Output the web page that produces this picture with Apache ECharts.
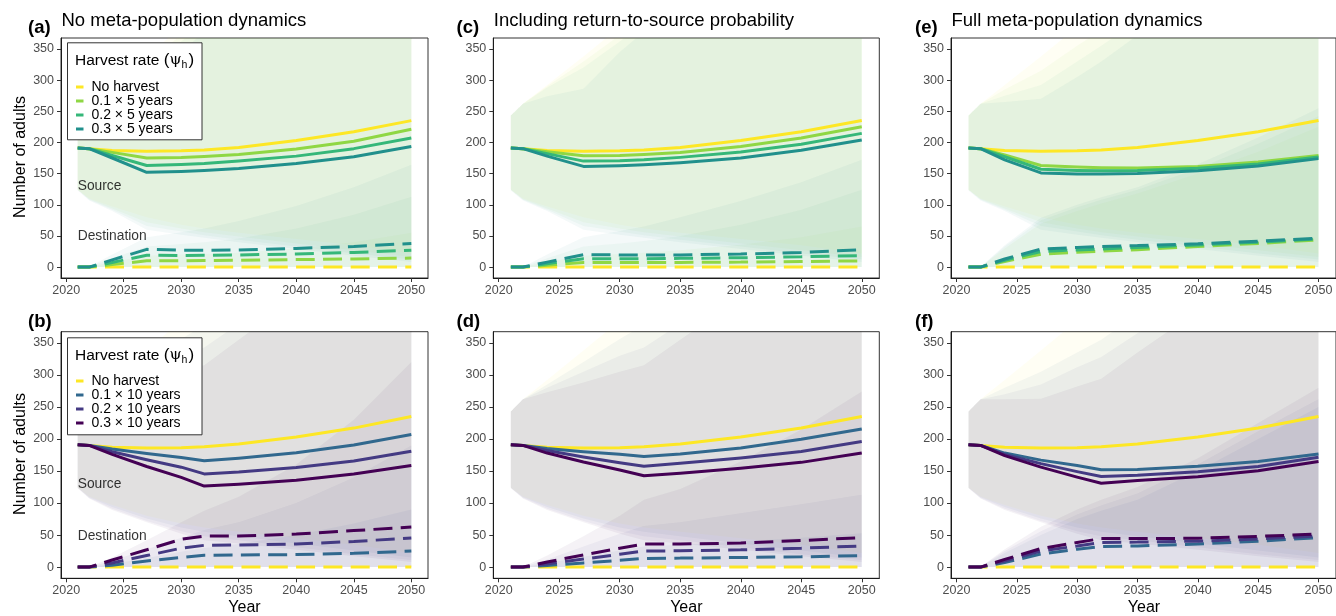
<!DOCTYPE html>
<html>
<head>
<meta charset="utf-8">
<script src="https://cdn.jsdelivr.net/npm/echarts@6/dist/echarts.min.js"></script>
<style>
  html, body { margin: 0; padding: 0; background: #ffffff; }
  #chart { width: 1336px; height: 616px; }
</style>
</head>
<body>
<div id="chart"></div>
<script>
// ---- axes --------------------------------------------------------------
const years  = [2021, 2022, 2024, 2027, 2030, 2032, 2035, 2040, 2045, 2050];
const xTicks = [2020, 2025, 2030, 2035, 2040, 2045, 2050];
const yTicks = [0, 50, 100, 150, 200, 250, 300, 350];

// ---- scenarios ----------------------------------------------------------
const scenariosTop    = ['No harvest', '0.1 × 5 years', '0.2 × 5 years', '0.3 × 5 years'];
const scenariosBottom = ['No harvest', '0.1 × 10 years', '0.2 × 10 years', '0.3 × 10 years'];
const coloursTop      = ['#FDE725', '#8FD744', '#35B779', '#21908C'];
const coloursBottom   = ['#FDE725', '#31688E', '#443A83', '#440154'];

const panelLabels = ['(a)', '(b)', '(c)', '(d)', '(e)', '(f)'];
const panelTitles = ['No meta-population dynamics', '', 'Including return-to-source probability', '', 'Full meta-population dynamics', ''];

// ---- mean number of adults: source (solid) and destination (dashed) ----
const zeros            = [0, 0, 0, 0, 0, 0, 0, 0, 0, 0];
const noHarvestSource  = [191, 190, 187, 186, 186.5, 188, 192, 203, 217, 235];

const aSrc01 = [191, 190, 184, 175, 176, 177.5, 180.5, 189.5, 202, 221];
const aSrc02 = [191, 190, 179, 163, 164.5, 166, 170, 178, 190, 207];
const aSrc03 = [191, 190, 175, 152, 153.5, 155, 158, 166, 177, 193.5];
const aDst01 = [0, 0, 4, 10, 10, 10.5, 11, 12, 13, 14.5];
const aDst02 = [0, 0, 7.5, 19, 18.5, 19, 19.5, 21, 23.5, 27];
const aDst03 = [0, 0, 11.5, 28.5, 27, 27, 27.5, 30, 33, 38];

const bSrc01 = [191, 190, 184.5, 177.5, 171, 166, 170, 178.5, 190.5, 207];
const bSrc02 = [191, 190, 180, 167.5, 156, 145.5, 148.5, 155.5, 165.5, 181];
const bSrc03 = [191, 190, 176, 157, 140, 126.5, 129.5, 135.5, 145.5, 158.5];
const bDst01 = [0, 0, 3, 9.5, 15, 18.5, 19, 19.5, 21.5, 25];
const bDst02 = [0, 0, 6.5, 18, 29.5, 34, 34.5, 36, 40, 45.5];
const bDst03 = [0, 0, 11, 27, 43.5, 48.5, 48.5, 51.5, 57, 62.5];

const cSrc01 = [191, 190, 185, 178.5, 179, 180.5, 184, 193.5, 207, 225];
const cSrc02 = [191, 190, 182, 170, 170.5, 172, 176, 184.5, 197, 214.5];
const cSrc03 = [191, 190, 178, 161.5, 162.5, 164, 167.5, 175, 187.5, 204];
const cDst01 = [0, 0, 3, 7.5, 7.5, 7.5, 7.5, 8, 9, 10];
const cDst02 = [0, 0, 5.5, 13.5, 13.5, 13.5, 14, 15, 16.5, 18.5];
const cDst03 = [0, 0, 8, 20, 19.5, 19.5, 19.5, 21, 23.5, 28];

const dSrc01 = [191, 190, 185, 180, 176, 172.5, 176.5, 186, 199.5, 215.5];
const dSrc02 = [191, 190, 182, 172, 163, 157.5, 162, 170.5, 180.5, 196];
const dSrc03 = [191, 190, 178, 164, 151.5, 142.5, 146.5, 154.5, 163.5, 178];
const dDst01 = [0, 0, 2.5, 6.5, 10.5, 13.5, 14, 15, 16, 18];
const dDst02 = [0, 0, 5, 12.5, 20, 25, 25.5, 27, 29.5, 33];
const dDst03 = [0, 0, 8, 19, 29.5, 36, 36, 37.5, 41.5, 46];

const eSrc01 = [191, 190, 180, 163, 160.5, 159.5, 159, 161.5, 168.5, 179];
const eSrc02 = [191, 190, 177, 157, 155, 154.5, 155, 158.5, 165.5, 176.5];
const eSrc03 = [191, 190, 172, 151, 149.5, 149.5, 150, 154.5, 162, 174];
const eDst01 = [0, 0, 9, 20.5, 24, 25.5, 28, 33, 38, 43.5];
const eDst02 = [0, 0, 11, 25, 27.5, 29, 31.5, 35.5, 40, 45];
const eDst03 = [0, 0, 13, 29, 31.5, 33, 34.5, 37.5, 41.5, 46.5];

const fSrc01 = [191, 190, 178, 167, 158.5, 152, 152.5, 157.5, 165, 176.5];
const fSrc02 = [191, 190, 176, 161.5, 149, 141.5, 143.5, 149, 157, 171.5];
const fSrc03 = [191, 190, 174, 156, 140.5, 131, 135, 141, 150.5, 165];
const fDst01 = [0, 0, 7, 20.5, 28, 32, 33, 36, 40.5, 46];
const fDst02 = [0, 0, 9.5, 25, 33, 38.5, 39, 40.5, 44, 48.5];
const fDst03 = [0, 0, 12, 29, 38.5, 44.5, 44.5, 45, 48, 51.5];

// ---- uncertainty intervals ---------------------------------------------
const srcLoNo    = [124, 110, 97, 80, 68, 62, 55, 45, 35, 22];
const srcLoTop01 = [124, 109, 94, 72, 62, 56, 49, 38, 27, 16];
const srcLoTop02 = [124, 108, 92, 66, 57, 51, 44, 33, 22, 12];
const srcLoTop03 = [123, 107, 90, 60, 52, 47, 40, 29, 18, 8];
const srcLoBot01 = [124, 109, 94, 76, 62, 55, 48, 37, 26, 15];
const srcLoBot02 = [124, 108, 91, 72, 56, 48, 42, 31, 20, 11];
const srcLoBot03 = [123, 107, 89, 70, 52, 42, 37, 27, 17, 8];

const srcHiNo    = [243, 262, 292, 338, 385, 415, 460, 530, 610, 700];
const acSrcHi01  = [243, 262, 290, 330, 372, 400, 445, 515, 595, 685];
const acSrcHi02  = [243, 262, 288, 320, 362, 390, 435, 505, 585, 670];
const acSrcHi03  = [243, 262, 274, 286, 345, 378, 425, 495, 575, 660];
const eSrcHi01   = [243, 262, 285, 315, 355, 380, 420, 490, 570, 660];
const eSrcHi02   = [243, 262, 275, 292, 330, 355, 395, 465, 545, 640];
const eSrcHi03   = [243, 262, 265, 270, 305, 330, 372, 440, 520, 610];
const bdSrcHi01  = [243, 262, 285, 320, 356, 378, 420, 490, 570, 660];
const bdSrcHi02  = [243, 262, 280, 305, 330, 343, 380, 450, 530, 620];
const bdSrcHi03  = [243, 262, 273, 288, 305, 315, 355, 420, 500, 590];
const fSrcHi01   = [243, 262, 280, 305, 335, 355, 395, 465, 545, 640];
const fSrcHi02   = [243, 262, 270, 285, 312, 328, 365, 435, 515, 610];
const fSrcHi03   = [243, 262, 262, 263, 282, 294, 335, 400, 480, 570];

const aDstHi01 = [0, 0, 8, 18, 20, 21, 23, 30, 40, 55];
const aDstHi02 = [0, 0, 14, 33, 37, 40, 46, 62, 84, 113];
const aDstHi03 = [0, 0, 20, 48, 56, 62, 74, 98, 128, 164];
const bDstHi01 = [0, 0, 5, 14, 24, 30, 36, 50, 68, 90];
const bDstHi02 = [0, 0, 10, 28, 46, 58, 70, 100, 140, 190];
const bDstHi03 = [0, 0, 15, 42, 70, 88, 110, 160, 230, 320];
const cDstHi01 = [0, 0, 8, 18, 21, 23, 27, 36, 48, 65];
const cDstHi02 = [0, 0, 14, 33, 38, 42, 50, 68, 92, 124];
const cDstHi03 = [0, 0, 20, 48, 58, 65, 80, 106, 136, 172];
const dDstHi01 = [0, 0, 6, 16, 26, 32, 35, 40, 46, 53];
const dDstHi02 = [0, 0, 12, 32, 52, 64, 70, 84, 98, 113];
const dDstHi03 = [0, 0, 18, 48, 80, 105, 122, 165, 215, 274];
const eDstHi01 = [0, 0, 30, 70, 90, 102, 118, 150, 185, 225];
const eDstHi02 = [0, 0, 33, 75, 96, 108, 124, 158, 198, 242];
const eDstHi03 = [0, 0, 35, 79, 100, 112, 128, 165, 208, 255];
const fDstHi01 = [0, 0, 22, 50, 75, 88, 105, 150, 200, 250];
const fDstHi02 = [0, 0, 25, 56, 82, 96, 115, 160, 212, 262];
const fDstHi03 = [0, 0, 28, 63, 90, 105, 125, 170, 225, 280];

// ---- in-panel annotations ----------------------------------------------
const sourceText = 'Source';
const destText = 'Destination';
const sourceTextAt = [2021, 129];
const destTextAt = [2021, 49];

// ---- layout -------------------------------------------------------------
const FONT = '"Liberation Sans", Arial, Helvetica, sans-serif';
const colLeft  = [61, 493.3, 951];
const colWidth = [367, 386, 386];
const rowTop   = [38, 331.7];
const rowHeight = [240, 246.6];

const panels = [
  { col: 0, row: 0, names: scenariosTop, colours: coloursTop,
    src: [noHarvestSource, aSrc01, aSrc02, aSrc03], dst: [zeros, aDst01, aDst02, aDst03],
    srcLo: [srcLoNo, srcLoTop01, srcLoTop02, srcLoTop03], srcHi: [srcHiNo, acSrcHi01, acSrcHi02, acSrcHi03],
    dstHi: [zeros, aDstHi01, aDstHi02, aDstHi03], notes: true },
  { col: 0, row: 1, names: scenariosBottom, colours: coloursBottom,
    src: [noHarvestSource, bSrc01, bSrc02, bSrc03], dst: [zeros, bDst01, bDst02, bDst03],
    srcLo: [srcLoNo, srcLoBot01, srcLoBot02, srcLoBot03], srcHi: [srcHiNo, bdSrcHi01, bdSrcHi02, bdSrcHi03],
    dstHi: [zeros, bDstHi01, bDstHi02, bDstHi03], notes: true },
  { col: 1, row: 0, names: scenariosTop, colours: coloursTop,
    src: [noHarvestSource, cSrc01, cSrc02, cSrc03], dst: [zeros, cDst01, cDst02, cDst03],
    srcLo: [srcLoNo, srcLoTop01, srcLoTop02, srcLoTop03], srcHi: [srcHiNo, acSrcHi01, acSrcHi02, acSrcHi03],
    dstHi: [zeros, cDstHi01, cDstHi02, cDstHi03] },
  { col: 1, row: 1, names: scenariosBottom, colours: coloursBottom,
    src: [noHarvestSource, dSrc01, dSrc02, dSrc03], dst: [zeros, dDst01, dDst02, dDst03],
    srcLo: [srcLoNo, srcLoBot01, srcLoBot02, srcLoBot03], srcHi: [srcHiNo, bdSrcHi01, bdSrcHi02, bdSrcHi03],
    dstHi: [zeros, dDstHi01, dDstHi02, dDstHi03] },
  { col: 2, row: 0, names: scenariosTop, colours: coloursTop,
    src: [noHarvestSource, eSrc01, eSrc02, eSrc03], dst: [zeros, eDst01, eDst02, eDst03],
    srcLo: [srcLoNo, srcLoTop01, srcLoTop02, srcLoTop03], srcHi: [srcHiNo, eSrcHi01, eSrcHi02, eSrcHi03],
    dstHi: [zeros, eDstHi01, eDstHi02, eDstHi03] },
  { col: 2, row: 1, names: scenariosBottom, colours: coloursBottom,
    src: [noHarvestSource, fSrc01, fSrc02, fSrc03], dst: [zeros, fDst01, fDst02, fDst03],
    srcLo: [srcLoNo, srcLoBot01, srcLoBot02, srcLoBot03], srcHi: [srcHiNo, fSrcHi01, fSrcHi02, fSrcHi03],
    dstHi: [zeros, fDstHi01, fDstHi02, fDstHi03] }
];

function rgba(hex, a) {
  const n = parseInt(hex.slice(1), 16);
  return 'rgba(' + (n >> 16) + ',' + ((n >> 8) & 255) + ',' + (n & 255) + ',' + a + ')';
}

// one translucent polygon between a lower and an upper bound
function ribbon(axisIndex, lo, hi, colour) {
  return {
    type: 'custom', xAxisIndex: axisIndex, yAxisIndex: axisIndex,
    clip: true, silent: true, z: 1,
    encode: { x: 0, y: [1, 2] },
    data: years.map((y, k) => [y, lo[k], hi[k]]),
    renderItem: function (params, api) {
      if (params.dataIndex !== 0) return null;
      const upper = years.map((y, k) => api.coord([y, hi[k]]));
      const lower = years.map((y, k) => api.coord([y, lo[k]])).reverse();
      return { type: 'polygon', shape: { points: upper.concat(lower) },
               style: { fill: rgba(colour, 0.05) } };
    }
  };
}

const grids = [], xAxes = [], yAxes = [], series = [], graphics = [];

panels.forEach((p, i) => {
  const left = colLeft[p.col], top = rowTop[p.row];
  const width = colWidth[p.col], height = rowHeight[p.row];
  grids.push({ left: left, top: top, width: width, height: height, show: true,
               borderColor: '#333333', borderWidth: 1, backgroundColor: 'transparent' });
  xAxes.push({
    gridIndex: i, type: 'value', min: 2019.55, max: 2051.45,
    splitLine: { show: false },
    axisLine: { onZero: false, lineStyle: { color: '#1a1a1a', width: 1 } },
    axisTick: { customValues: xTicks, length: 4, lineStyle: { color: '#333333' } },
    axisLabel: { customValues: xTicks, color: '#4D4D4D', fontSize: 12.5, margin: 6,
                 fontFamily: FONT, formatter: v => String(v) }
  });
  yAxes.push({
    gridIndex: i, type: 'value', min: -17.5, max: 367.5,
    splitLine: { show: false },
    axisLine: { onZero: false, lineStyle: { color: '#1a1a1a', width: 1 } },
    axisTick: { customValues: yTicks, length: 4, lineStyle: { color: '#333333' } },
    axisLabel: { customValues: yTicks, color: '#4D4D4D', fontSize: 12.5, margin: 7,
                 fontFamily: FONT, formatter: v => String(v) }
  });

  // intervals first, then mean trajectories on top
  for (let s = 0; s < 4; s++) {
    series.push(ribbon(i, p.srcLo[s], p.srcHi[s], p.colours[s]));
    if (s > 0) series.push(ribbon(i, zeros, p.dstHi[s], p.colours[s]));
  }
  for (let s = 0; s < 4; s++) {
    const c = p.colours[s];
    series.push({
      type: 'line', name: p.names[s], xAxisIndex: i, yAxisIndex: i, z: 3,
      data: years.map((y, k) => [y, p.dst[s][k]]),
      symbol: 'none', silent: true, clip: true, itemStyle: { color: c },
      lineStyle: { color: c, width: 3, type: [19, 8.3], cap: 'butt' }
    });
    series.push({
      type: 'line', name: p.names[s], xAxisIndex: i, yAxisIndex: i, z: 3,
      data: years.map((y, k) => [y, p.src[s][k]]),
      symbol: 'none', silent: true, clip: true, itemStyle: { color: c },
      lineStyle: { color: c, width: 3, cap: 'butt', join: 'round' }
    });
  }
  if (p.notes) {
    series.push({
      type: 'scatter', xAxisIndex: i, yAxisIndex: i, symbolSize: 0, silent: true, z: 4,
      data: [sourceTextAt, destTextAt],
      label: { show: true, position: 'right', distance: 0, color: '#000', fontSize: 13.8,
               fontFamily: FONT,
               formatter: prm => (prm.dataIndex === 0 ? sourceText : destText) }
    });
  }

  // panel tag and heading
  const tagX = p.col === 0 ? 28 : p.col === 1 ? 456.5 : 915;
  const tagY = p.row === 0 ? 28 : 322;
  graphics.push({ type: 'text', x: tagX, y: tagY, z: 20,
    style: { text: panelLabels[i], font: 'bold 18.5px ' + FONT, fill: '#000', verticalAlign: 'middle' } });
  if (panelTitles[i]) {
    graphics.push({ type: 'text', x: left + 0.5, y: 20.5, z: 20,
      style: { text: panelTitles[i], font: '18.5px ' + FONT, fill: '#000', verticalAlign: 'middle' } });
  }
  if (p.row === 1) {
    graphics.push({ type: 'text', x: left + width / 2, y: 608, z: 20,
      style: { text: 'Year', font: '16px ' + FONT, fill: '#000', align: 'center', verticalAlign: 'middle' } });
  }
  if (p.col === 0) {
    graphics.push({ type: 'text', x: 21, y: top + height / 2 - 1, rotation: Math.PI / 2, z: 20,
      style: { text: 'Number of adults', font: '16px ' + FONT, fill: '#000', align: 'center', verticalAlign: 'middle' } });
  }
});

// legend frames and headings (panels a and b)
[42.3, 337.3].forEach(boxTop => {
  graphics.push({ type: 'rect', z: 50,
    shape: { x: 67.5, y: boxTop + 0.5, width: 134.5, height: 97 },
    style: { fill: '#ffffff', stroke: '#333333', lineWidth: 1 } });
  graphics.push({ type: 'text', x: 75, y: boxTop + 18, z: 51,
    style: {
      text: '{t|Harvest rate }{p|(}{g|ψ}{s|h}{p|)}',
      verticalAlign: 'middle',
      rich: {
        t: { fontSize: 15.5, fontFamily: FONT, fill: '#000', lineHeight: 20 },
        p: { fontSize: 17, fontFamily: FONT, fill: '#000', lineHeight: 20 },
        g: { fontSize: 15.5, fontFamily: '"DejaVu Serif", serif', fill: '#000', lineHeight: 20 },
        s: { fontSize: 10.5, fontFamily: FONT, fill: '#000', lineHeight: 20, verticalAlign: 'bottom', padding: [6, 1, 0, 0] }
      }
    } });
});

function legendFor(names, colours, top) {
  return {
    left: 76, top: top, orient: 'vertical', itemGap: 0, itemWidth: 7.5, itemHeight: 3,
    padding: 0, selectedMode: false, z: 60,
    data: names.map((n, k) => ({ name: n, icon: 'rect', itemStyle: { color: colours[k], borderWidth: 0 } })),
    textStyle: { fontSize: 14, lineHeight: 13.33, color: '#000', fontFamily: FONT, padding: [0, 0, 0, 3] }
  };
}

const chart = echarts.init(document.getElementById('chart'), null, { renderer: 'canvas' });
chart.setOption({
  animation: false,
  backgroundColor: '#ffffff',
  textStyle: { fontFamily: FONT },
  grid: grids,
  xAxis: xAxes,
  yAxis: yAxes,
  legend: [legendFor(scenariosTop, coloursTop, 80), legendFor(scenariosBottom, coloursBottom, 374)],
  graphic: { elements: graphics },
  series: series
});
</script>
</body>
</html>
